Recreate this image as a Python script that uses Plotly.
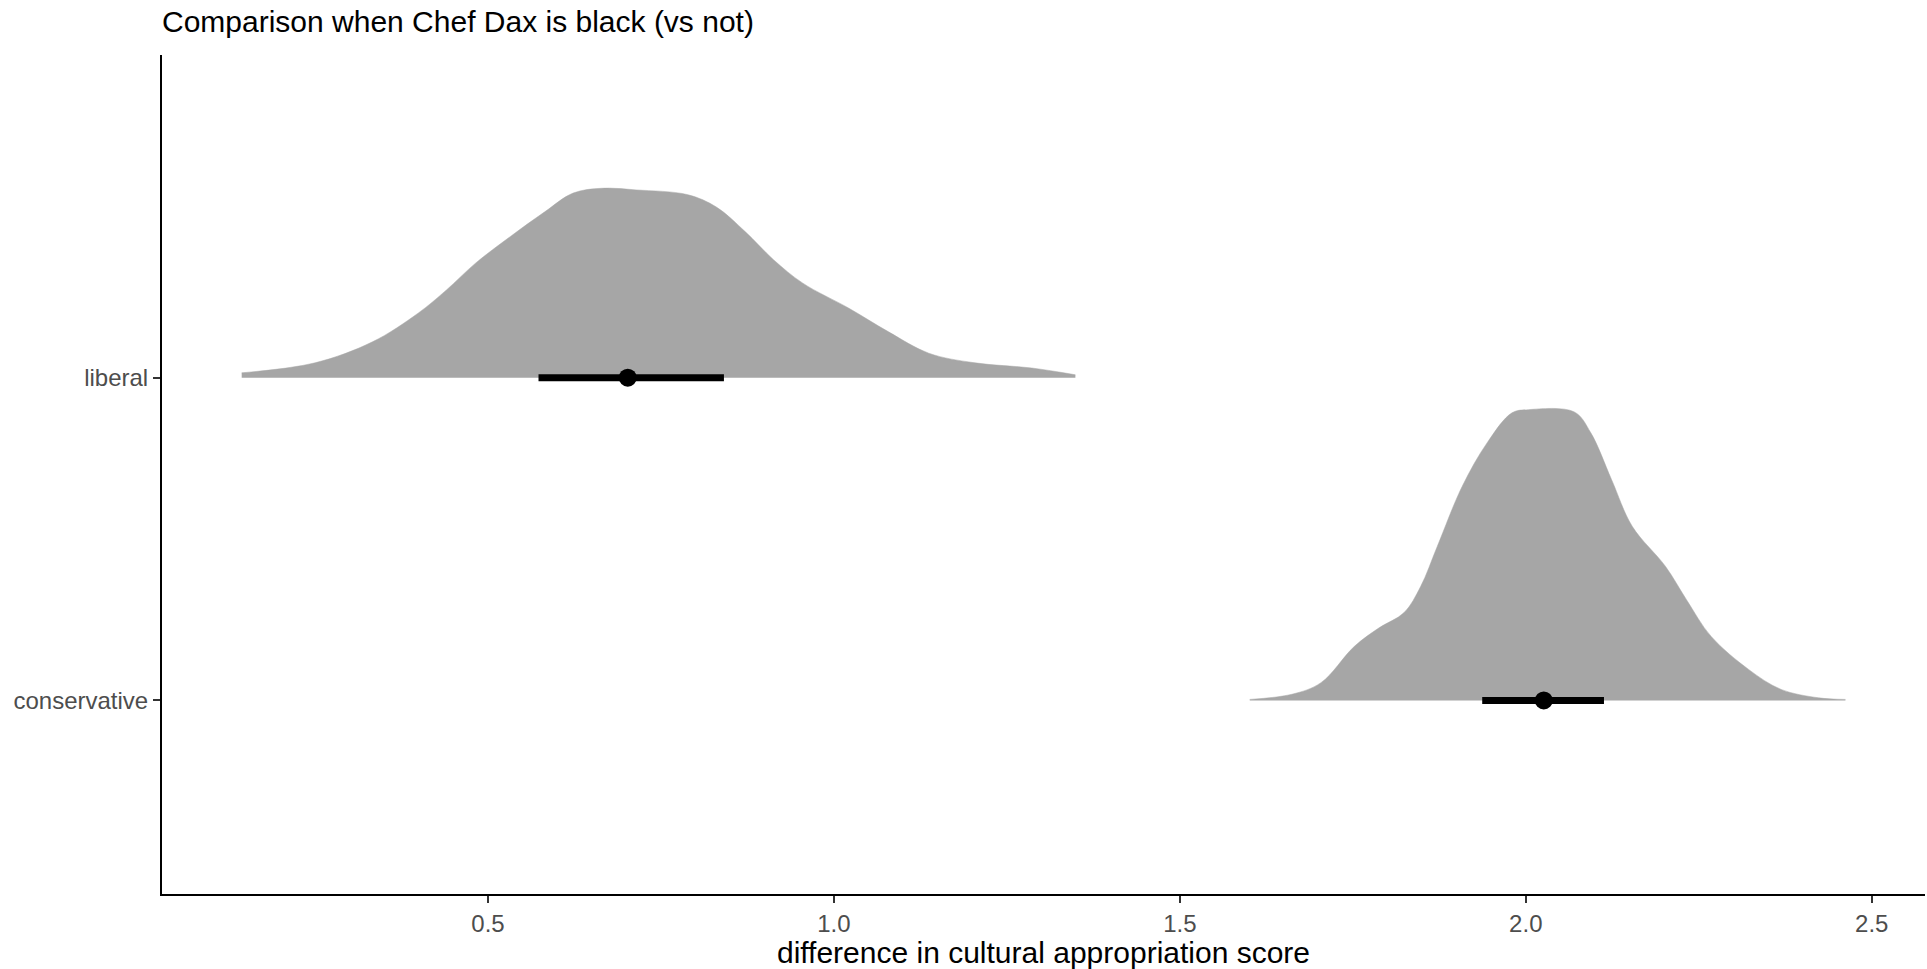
import plotly.graph_objects as go

# Groups and their position on the categorical y axis
groups = ["conservative", "liberal"]
group_pos = [1, 2]

# Posterior density outlines (x = difference, h = scaled slab height)
liberal_x = [0.144, 0.250, 0.333, 0.399, 0.440, 0.482, 0.532, 0.582, 0.623, 0.664,
             0.714, 0.789, 0.830, 0.872, 0.913, 0.955, 1.021, 1.079, 1.137, 1.204,
             1.286, 1.349]
liberal_h = [0.015, 0.046, 0.111, 0.200, 0.272, 0.355, 0.437, 0.514, 0.572, 0.587,
             0.582, 0.567, 0.529, 0.452, 0.365, 0.293, 0.216, 0.142, 0.076, 0.046,
             0.030, 0.009]

conservative_x = [1.601, 1.662, 1.704, 1.752, 1.788, 1.824, 1.848, 1.872, 1.908, 1.944,
                  1.980, 2.004, 2.070, 2.094, 2.124, 2.154, 2.202, 2.232, 2.268, 2.322,
                  2.369, 2.423, 2.462]
conservative_h = [0.003, 0.019, 0.055, 0.167, 0.225, 0.272, 0.353, 0.477, 0.663, 0.798,
                  0.891, 0.901, 0.894, 0.829, 0.684, 0.539, 0.415, 0.313, 0.198, 0.096,
                  0.034, 0.008, 0.003]

# Point estimates and intervals
point_est = [2.026, 0.702]
interval_lo = [1.937, 0.573]
interval_hi = [2.113, 0.841]

x_ticks = [0.5, 1.0, 1.5, 2.0, 2.5]
x_tick_labels = ["0.5", "1.0", "1.5", "2.0", "2.5"]

SLAB = "#A6A6A6"
fig = go.Figure()

slabs = [(conservative_x, conservative_h, group_pos[0]),
         (liberal_x, liberal_h, group_pos[1])]
for xs, hs, base in slabs:
    # baseline for the fill
    fig.add_trace(go.Scatter(x=[xs[0], xs[-1]], y=[base, base], mode="lines",
                             line=dict(width=0, color=SLAB), hoverinfo="skip",
                             showlegend=False))
    fig.add_trace(go.Scatter(x=xs, y=[base + h for h in hs], mode="lines",
                             line=dict(width=0.5, color=SLAB, shape="spline", smoothing=1.0),
                             fill="tonexty", fillcolor=SLAB, hoverinfo="skip",
                             showlegend=False))

for i, base in enumerate(group_pos):
    fig.add_trace(go.Scatter(x=[interval_lo[i], interval_hi[i]], y=[base, base],
                             mode="lines", line=dict(color="black", width=7),
                             showlegend=False, hoverinfo="skip"))
    fig.add_trace(go.Scatter(x=[point_est[i]], y=[base], mode="markers",
                             marker=dict(color="black", size=18),
                             showlegend=False))

fig.update_layout(
    width=1927, height=969,
    margin=dict(l=162, r=2, t=55, b=75),
    paper_bgcolor="white", plot_bgcolor="white",
    font=dict(family="Liberation Sans, Arial, sans-serif", size=24, color="#4D4D4D"),
    title=dict(text="Comparison when Chef Dax is black (vs not)",
               x=162 / 1927, xanchor="left", xref="container",
               y=1 - 21 / 969, yanchor="middle", yref="container",
               font=dict(size=30, color="black")),
    xaxis=dict(range=[0.0288, 2.577], showgrid=False, zeroline=False,
               showline=True, linecolor="black", linewidth=2,
               ticks="outside", ticklen=7, tickwidth=2, tickcolor="#333333",
               tickvals=x_ticks, ticktext=x_tick_labels,
               tickfont=dict(size=24, color="#4D4D4D"),
               title=dict(text="difference in cultural appropriation score",
                          font=dict(size=30, color="black"), standoff=4)),
    yaxis=dict(range=[0.4, 3.0], showgrid=False, zeroline=False,
               showline=True, linecolor="black", linewidth=2,
               ticks="outside", ticklen=7, tickwidth=2, tickcolor="#333333",
               tickvals=group_pos, ticktext=groups,
               tickfont=dict(size=24, color="#4D4D4D")),
)

fig.write_html("out.html")
